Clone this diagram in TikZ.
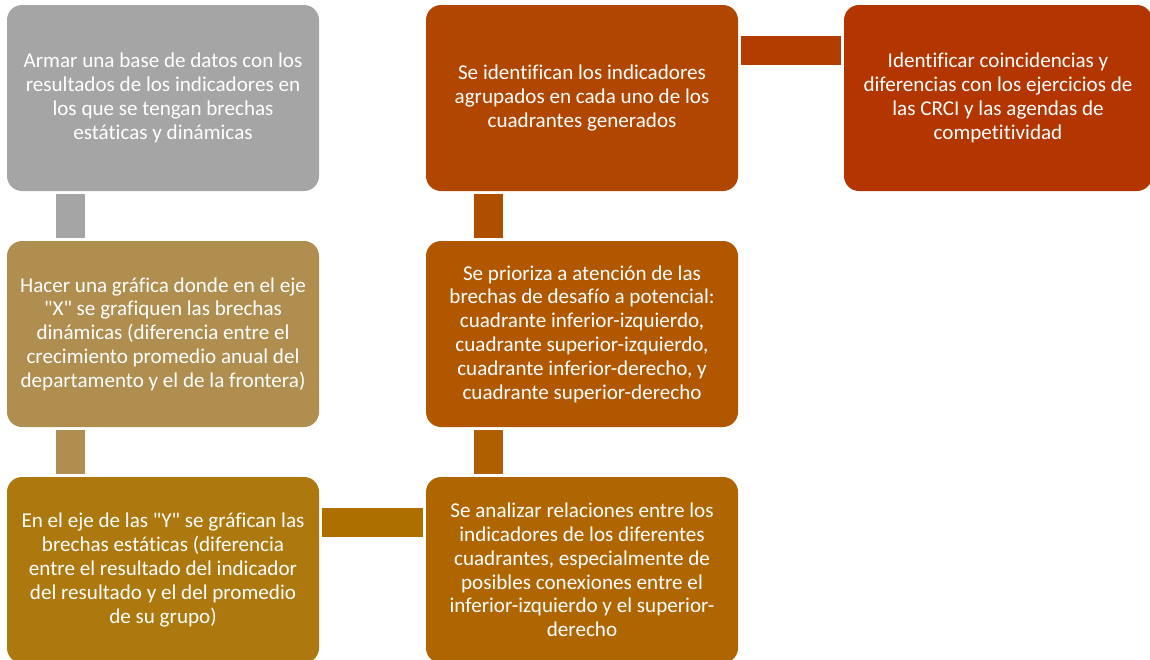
\documentclass[tikz,border=0pt]{standalone}
\usepackage{fontspec}
\setmainfont{Carlito}[Ligatures={TeXOff,NoCommon}]
\definecolor{c1}{HTML}{A5A5A5}
\definecolor{c2}{HTML}{B08E50}
\definecolor{c3}{HTML}{AD780E}
\definecolor{c4}{HTML}{B06600}
\definecolor{c5}{HTML}{B05700}
\definecolor{c6}{HTML}{B04600}
\definecolor{c7}{HTML}{B33500}
\definecolor{k34}{HTML}{AD7000}
\definecolor{k45}{HTML}{B05F00}
\definecolor{k56}{HTML}{B04E00}
\definecolor{k67}{HTML}{B33C00}
\begin{document}
\begin{tikzpicture}[x=1pt,y=-1pt,
  box/.style={rounded corners=15pt, inner sep=0pt, minimum width=312pt, minimum height=186pt,
    text=white, align=center, font=\fontsize{21.1}{23.8}\selectfont},
  bar/.style={line width=29pt, shorten <=3pt, shorten >=3pt}]
\useasboundingbox (0,0) rectangle (1150,659);
\clip (0,0) rectangle (1150,659);
\node[box, fill=c1] (b1) at (163,98) {Armar una base de datos con los\\resultados de los indicadores en\\los que se tengan brechas\\estáticas y dinámicas};
\node[box, fill=c2] (b2) at (163,334) {Hacer una gráfica donde en el eje\\"X" se grafiquen las brechas\\dinámicas (diferencia entre el\\crecimiento promedio anual del\\departamento y el de la frontera)};
\node[box, fill=c3] (b3) at (163,570) {En el eje de las "Y" se gráfican las\\brechas estáticas (diferencia\\entre el resultado del indicador\\del resultado y el del promedio\\de su grupo)};
\node[box, fill=c4] (b4) at (582,570) {Se analizar relaciones entre los\\indicadores de los diferentes\\cuadrantes, especialmente de\\posibles conexiones entre el\\inferior-izquierdo y el superior-\\derecho};
\node[box, fill=c5] (b5) at (582,334) {Se prioriza a atención de las\\brechas de desafío a potencial:\\cuadrante inferior-izquierdo,\\cuadrante superior-izquierdo,\\cuadrante inferior-derecho, y\\cuadrante superior-derecho};
\node[box, fill=c6] (b6) at (582,98) {Se identifican los indicadores\\agrupados en cada uno de los\\cuadrantes generados};
\node[box, fill=c7, minimum width=308pt] (b7) at (998,98) {Identificar coincidencias y\\diferencias con los ejercicios de\\las CRCI y las agendas de\\competitividad};
\draw[bar, draw=c1] ([xshift=63.5pt]b1.south west) -- ([xshift=63.5pt]b2.north west);
\draw[bar, draw=c2] ([xshift=63.5pt]b2.south west) -- ([xshift=63.5pt]b3.north west);
\draw[bar, draw=k34] ([yshift=-45.5pt]b3.north east) -- ([yshift=-45.5pt]b4.north west);
\draw[bar, draw=k45] ([xshift=62.5pt]b4.north west) -- ([xshift=62.5pt]b5.south west);
\draw[bar, draw=k56] ([xshift=62.5pt]b5.north west) -- ([xshift=62.5pt]b6.south west);
\draw[bar, draw=k67] ([yshift=-45.5pt]b6.north east) -- ([yshift=-45.5pt]b7.north west);
\end{tikzpicture}
\end{document}
